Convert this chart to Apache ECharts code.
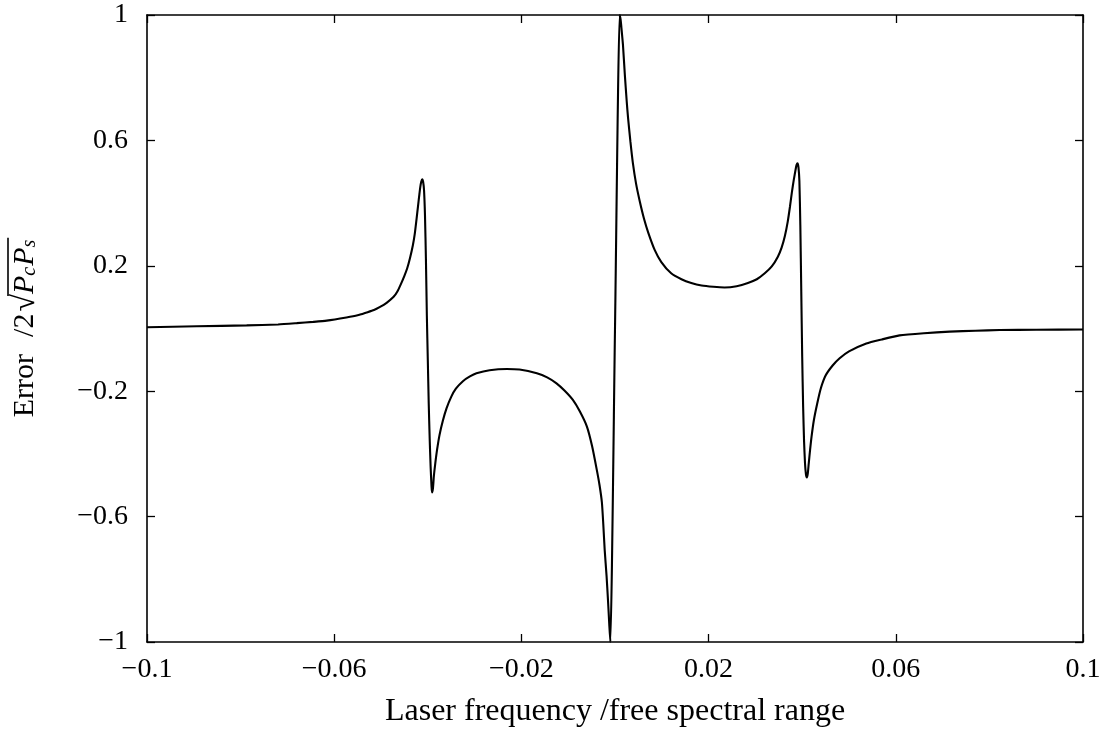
<!DOCTYPE html>
<html>
<head>
<meta charset="utf-8">
<script src="https://cdn.jsdelivr.net/npm/echarts@6/dist/echarts.min.js"></script>
<style>
html,body{margin:0;padding:0;background:#fff;}
#chart{width:1108px;height:734px;}
</style>
</head>
<body>
<div id="chart"></div>
<script>
// Laser frequency (units of free spectral range)
const freqValues = [
  -0.1, -0.0894, -0.0787, -0.0720, -0.0680, -0.0645, -0.0616, -0.0574, -0.0550, -0.0531,
  -0.0515, -0.0503, -0.0488, -0.0473, -0.0465, -0.0458, -0.0450, -0.0444, -0.0438, -0.0432,
  -0.0428, -0.0424, -0.0421, -0.0418, -0.0416, -0.0414, -0.0412, -0.0410, -0.0408, -0.0406,
  -0.0404, -0.0402, -0.0400, -0.0398, -0.0396, -0.0394, -0.0392, -0.0391, -0.0389, -0.0387,
  -0.0384, -0.0380, -0.0375, -0.0368, -0.0360, -0.0350, -0.0340, -0.0325, -0.0310, -0.0296,
  -0.0268, -0.0231, -0.0204, -0.0167, -0.0145, -0.0125, -0.0108, -0.0090, -0.0075, -0.0060,
  -0.0049, -0.0039, -0.0033, -0.0028, -0.0025, -0.0022, -0.0018, -0.0015, -0.0012, -0.0010,
  0.0,
  0.0010, 0.0012, 0.0014, 0.0017, 0.0021, 0.0025, 0.0028, 0.0033, 0.0038, 0.0045,
  0.0053, 0.0062, 0.0071, 0.0085, 0.0099, 0.0120, 0.0142, 0.0163, 0.0185, 0.0210,
  0.0234, 0.0260, 0.0284, 0.0303, 0.0320, 0.0335, 0.0348, 0.0356, 0.0363, 0.0369,
  0.0374, 0.0378, 0.0382, 0.0386, 0.0388, 0.0390, 0.0392, 0.0394, 0.0396, 0.0398,
  0.0400, 0.0402, 0.0404, 0.0406, 0.0408, 0.0410, 0.0412, 0.0414, 0.0417, 0.0420,
  0.0425, 0.0432, 0.0440, 0.0450, 0.0465, 0.0480, 0.0500, 0.0537, 0.0570, 0.0608,
  0.0660, 0.0715, 0.0770, 0.0822, 0.0900, 0.1
];
// Error signal normalised by 2*sqrt(Pc*Ps)
const errorValues = [
  0.004, 0.007, 0.010, 0.013, 0.017, 0.021, 0.025, 0.035, 0.042, 0.051,
  0.059, 0.068, 0.082, 0.101, 0.118, 0.140, 0.168, 0.192, 0.225, 0.265,
  0.300, 0.350, 0.389, 0.428, 0.452, 0.468, 0.476, 0.468, 0.440, 0.360,
  0.220, 0.040, -0.100, -0.240, -0.350, -0.440, -0.505, -0.523, -0.510, -0.470,
  -0.430, -0.385, -0.340, -0.295, -0.255, -0.218, -0.192, -0.168, -0.153, -0.143,
  -0.133, -0.129, -0.131, -0.143, -0.156, -0.175, -0.198, -0.228, -0.265, -0.313,
  -0.375, -0.450, -0.500, -0.555, -0.625, -0.707, -0.790, -0.866, -0.950, -1.0,
  0.0,
  1.0, 0.985, 0.955, 0.905, 0.810, 0.725, 0.670, 0.595, 0.530, 0.462,
  0.405, 0.350, 0.306, 0.250, 0.212, 0.176, 0.157, 0.145, 0.137, 0.133,
  0.131, 0.135, 0.145, 0.157, 0.176, 0.198, 0.229, 0.258, 0.295, 0.340,
  0.390, 0.435, 0.474, 0.508, 0.522, 0.527, 0.515, 0.470, 0.330, 0.120,
  -0.090, -0.250, -0.360, -0.430, -0.465, -0.475, -0.462, -0.430, -0.385, -0.345,
  -0.292, -0.240, -0.190, -0.150, -0.118, -0.095, -0.073, -0.048, -0.035, -0.022,
  -0.015, -0.010, -0.007, -0.005, -0.004, -0.003
];
const xTicks = [-0.1, -0.06, -0.02, 0.02, 0.06, 0.1];
const xTickLabels = ['\u22120.1', '\u22120.06', '\u22120.02', '0.02', '0.06', '0.1'];
const yTicks = [-1, -0.6, -0.2, 0.2, 0.6, 1];
const yTickLabels = ['\u22121', '\u22120.6', '\u22120.2', '0.2', '0.6', '1'];

const FAM = '"Liberation Serif"';
const FONT = '"Liberation Serif", "DejaVu Serif", serif';
const lookup = (ticks, labels) => (v) => {
  const i = ticks.findIndex(t => Math.abs(t - v) < 1e-9);
  return i >= 0 ? labels[i] : '';
};

// text measuring for the composed y-axis title
const mctx = document.createElement('canvas').getContext('2d');
function tw(text, size, italic) {
  mctx.font = (italic ? 'italic ' : '') + size + 'px ' + FAM;
  return mctx.measureText(text).width;
}
const NS = 30, SUB = 20, RS = 32;
const wError = tw('Error', NS), wSlash2 = tw('/2', NS), wRoot = tw('\u221A', RS);
const wRad = tw('P', NS, true) * 2 + tw('c', SUB, true) + tw('s', SUB, true) + 2;
const gap1 = 17, gap2 = 2;
const total = wError + gap1 + wSlash2 + gap2 + wRoot + wRad;
const x0 = -total / 2;
const xSlash = x0 + wError + gap1;
const xRoot = xSlash + wSlash2 + gap2;
const xRad = xRoot + wRoot;

const axisLineStyle = { show: true, onZero: false, lineStyle: { color: '#000', width: 1.6 } };
const tickStyle = (vals) => ({ show: true, inside: true, length: 8, customValues: vals, lineStyle: { color: '#000', width: 1.3 } });

const chart = echarts.init(document.getElementById('chart'), null, { renderer: 'canvas' });
chart.setOption({
  animation: false,
  backgroundColor: '#fff',
  grid: { left: 147, right: 25, top: 15, bottom: 92, containLabel: false, outerBoundsMode: 'none' },
  xAxis: [
    {
      type: 'value', min: -0.1, max: 0.1, position: 'bottom',
      axisLine: axisLineStyle, axisTick: tickStyle(xTicks),
      axisLabel: { customValues: xTicks, formatter: lookup(xTicks, xTickLabels), fontFamily: FONT, fontSize: 28, color: '#000', margin: 14 },
      splitLine: { show: false },
      name: 'Laser frequency /free spectral range', nameLocation: 'middle', nameGap: 54,
      nameTextStyle: { fontFamily: FONT, fontSize: 32, color: '#000' }
    },
    {
      type: 'value', min: -0.1, max: 0.1, position: 'top',
      axisLine: axisLineStyle, axisTick: tickStyle(xTicks),
      axisLabel: { show: false }, splitLine: { show: false }
    }
  ],
  yAxis: [
    {
      type: 'value', min: -1, max: 1, position: 'left',
      axisLine: axisLineStyle, axisTick: tickStyle(yTicks),
      axisLabel: { customValues: yTicks, formatter: lookup(yTicks, yTickLabels), fontFamily: FONT, fontSize: 28, color: '#000', margin: 19 },
      splitLine: { show: false }
    },
    {
      type: 'value', min: -1, max: 1, position: 'right',
      axisLine: axisLineStyle, axisTick: tickStyle(yTicks),
      axisLabel: { show: false }, splitLine: { show: false }
    }
  ],
  graphic: [
    {
      type: 'group', x: 25, y: 328, rotation: Math.PI / 2, silent: true,
      children: [
        { type: 'text', x: x0, y: 0, style: { text: 'Error', font: NS + 'px ' + FONT, textAlign: 'left', textVerticalAlign: 'middle', fill: '#000' } },
        { type: 'text', x: xSlash, y: 0, style: { text: '/2', font: NS + 'px ' + FONT, textAlign: 'left', textVerticalAlign: 'middle', fill: '#000' } },
        { type: 'text', x: xRoot, y: 1, style: { text: '\u221A', font: RS + 'px ' + FONT, textAlign: 'left', textVerticalAlign: 'middle', fill: '#000' } },
        { type: 'text', x: xRad, y: 0, style: {
            text: '{i|P}{s|c}{i|P}{s|s}', textAlign: 'left', textVerticalAlign: 'middle',
            rich: {
              i: { fontFamily: FONT, fontStyle: 'italic', fontSize: NS, fill: '#000', color: '#000' },
              s: { fontFamily: FONT, fontStyle: 'italic', fontSize: SUB, fill: '#000', color: '#000', verticalAlign: 'bottom', padding: [9, 1, 0, 0] }
            }
        } },
        { type: 'line', shape: { x1: xRad - 2, y1: -17, x2: xRad + wRad + 1, y2: -17 }, style: { stroke: '#000', lineWidth: 1.6 } }
      ]
    }
  ],
  series: [
    {
      type: 'line', xAxisIndex: 0, yAxisIndex: 0,
      data: freqValues.map((x, i) => [x, errorValues[i]]),
      showSymbol: false, symbol: 'none', smooth: 0.2,
      lineStyle: { color: '#000', width: 2.1 },
      clip: true
    }
  ]
});
</script>
</body>
</html>
